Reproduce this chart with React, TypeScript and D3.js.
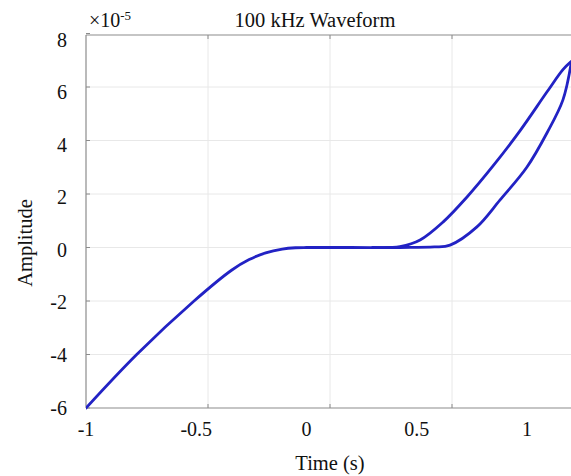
import React from "react";
import * as d3 from "d3";

const title = "100 kHz Waveform";
const xLabel = "Time (s)";
const yLabel = "Amplitude";
const xTicks = [-1, -0.5, 0, 0.5, 1];
const yTicks = [-6, -4, -2, 0, 2, 4, 6, 8];

// rising branch (lower), time vs amplitude (×1e-5)
const risingX = [-1, -0.77, -0.51, -0.34, -0.26, -0.185, -0.11, -0.05, 0, 0.2, 0.424, 0.58, 0.651, 0.773, 0.878, 1.0, 1.091, 1.163, 1.2];
const risingY = [-6, -4, -2, -0.85, -0.45, -0.2, -0.06, -0.01, 0, 0, 0, 0.02, 0.09, 0.77, 1.78, 3.01, 4.29, 5.52, 6.87];
// falling branch (upper)
const fallingX = [0.3, 0.38, 0.424, 0.515, 0.619, 0.728, 0.846, 0.968, 1.091, 1.163, 1.2];
const fallingY = [0, 0, 0.03, 0.28, 0.95, 1.89, 3.05, 4.36, 5.82, 6.65, 6.95];

const W = 571;
const H = 476;
const left = 86;
const right = 571;
const top = 35;
const bottom = 408;

export default function App() {
  // data scale (matches tick label positions)
  const x = d3.scaleLinear().domain([-1, 1]).range([left, left + 441]);
  const y = d3.scaleLinear().domain([-6, 8]).range([bottom, top - 1.5]);
  // grid / tick-mark scale as in the reference
  const xGrid = d3.scaleLinear().domain([-1, 1]).range([left, 574]);
  const yLab = d3.scaleLinear().domain([-6, 8]).range([bottom, 40]);

  const line = d3
    .line<[number, number]>()
    .x((d) => x(d[0]))
    .y((d) => y(d[1]))
    .curve(d3.curveCatmullRom.alpha(0.5));

  const rising: [number, number][] = risingX.map((v, i) => [v, risingY[i]]);
  const falling: [number, number][] = fallingX.map((v, i) => [v, fallingY[i]]);

  const font = "'Liberation Serif', 'Times New Roman', serif";
  const gridColor = "#e8e8e8";
  const axisColor = "#8c8c8c";
  const lineColor = "#2222c4";

  return (
    <svg
      width={W}
      height={H}
      style={{ position: "absolute", left: 0, top: 0, background: "#fff" }}
      fontFamily={font}
    >
      <defs>
        <clipPath id="plot">
          <rect x={left} y={top - 2} width={right - left} height={bottom - top + 4} />
        </clipPath>
      </defs>
      {/* grid */}
      {xTicks.slice(1).map((t) => (
        <line key={"gx" + t} x1={xGrid(t)} x2={xGrid(t)} y1={top} y2={bottom} stroke={gridColor} strokeWidth={1} />
      ))}
      {yTicks.slice(1, -1).map((t) => (
        <line key={"gy" + t} x1={left} x2={right} y1={y(t)} y2={y(t)} stroke={gridColor} strokeWidth={1} />
      ))}
      {/* tick marks */}
      {xTicks.slice(1).map((t) => (
        <g key={"tx" + t}>
          <line x1={xGrid(t)} x2={xGrid(t)} y1={bottom} y2={bottom - 4} stroke={axisColor} />
          <line x1={xGrid(t)} x2={xGrid(t)} y1={top} y2={top + 4} stroke={axisColor} />
        </g>
      ))}
      {yTicks.map((t) => (
        <line key={"ty" + t} x1={left} x2={left + 4} y1={y(t)} y2={y(t)} stroke={axisColor} />
      ))}
      {/* axes box */}
      <line x1={left} x2={right} y1={top} y2={top} stroke={axisColor} strokeWidth={1.2} />
      <line x1={left} x2={right} y1={bottom} y2={bottom} stroke={axisColor} strokeWidth={1.2} />
      <line x1={left} x2={left} y1={top} y2={bottom} stroke={axisColor} strokeWidth={1.2} />
      {/* data */}
      <g clipPath="url(#plot)">
        <path d={line(rising) || ""} fill="none" stroke={lineColor} strokeWidth={2.8} strokeLinejoin="round" strokeLinecap="round" />
        <path d={line(falling) || ""} fill="none" stroke={lineColor} strokeWidth={2.8} strokeLinejoin="round" strokeLinecap="round" />
      </g>
      {/* tick labels */}
      {xTicks.map((t) => (
        <text key={"lx" + t} x={x(t)} y={436} textAnchor="middle" fontSize={20} fill="#111">
          {t}
        </text>
      ))}
      {yTicks.map((t) => (
        <text key={"ly" + t} x={67} y={yLab(t)} dy="0.33em" textAnchor="end" fontSize={20} fill="#111">
          {t}
        </text>
      ))}
      {/* exponent */}
      <text x={89} y={27} fontSize={20} fill="#111">
        ×10
        <tspan dy={-7} fontSize={13}>-5</tspan>
      </text>
      {/* title */}
      <text x={315} y={27} textAnchor="middle" fontSize={20.5} fill="#111">
        {title}
      </text>
      {/* axis labels */}
      <text x={330} y={470} textAnchor="middle" fontSize={20.5} fill="#111">
        {xLabel}
      </text>
      <text
        transform={`translate(32,${243}) rotate(-90)`}
        textAnchor="middle"
        fontSize={20.5}
        fill="#111"
      >
        {yLabel}
      </text>
    </svg>
  );
}
